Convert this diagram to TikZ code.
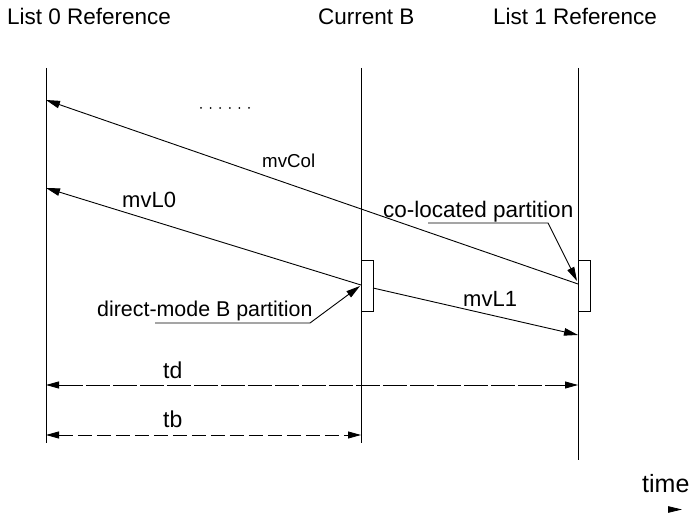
\documentclass[tikz,border=0pt]{standalone}
\usepackage{fontspec}
\setmainfont{Liberation Sans}
\usetikzlibrary{arrows.meta}
\begin{document}
\begin{tikzpicture}[x=1pt,y=-1pt,
  timeline/.style={line width=0.9pt},
  vec/.style={line width=0.9pt,-{Triangle[length=14pt,width=7.5pt]}},
  span/.style={line width=0.8pt,{Triangle[length=13pt,width=7pt]}-{Triangle[length=13pt,width=7pt]}},
  lbl/.style={inner sep=0pt,anchor=base west},
  part/.style={draw,line width=0.9pt,minimum width=11.5pt,minimum height=51pt,inner sep=0pt,fill=white}]
\useasboundingbox (0,0) rectangle (696,518);

% column headings
\node[lbl,font=\fontsize{22.5}{24}\selectfont] (h0) at (7,25) {List 0 Reference};
\node[lbl,font=\fontsize{22.5}{24}\selectfont] (hb) at (318,25) {Current B};
\node[lbl,font=\fontsize{22.5}{24}\selectfont] (h1) at (493,25) {List 1 Reference};

% time lines of the three pictures
\coordinate (l0top) at (46,68);  \coordinate (l0bot) at (46,443);
\coordinate (cbtop) at (361,68); \coordinate (cbbot) at (361,443);
\coordinate (l1top) at (578,68); \coordinate (l1bot) at (578,460);
\draw[timeline] (l0top) -- (l0bot);
\draw[timeline] (cbtop) -- (cbbot);
\draw[timeline] (l1top) -- (l1bot);

% partitions
\node[part,anchor=north west] (bpart) at (361,260) {};
\node[part,anchor=north west] (colpart) at (578,260) {};

% motion vectors
\coordinate (colend) at (578,284);
\coordinate (colref) at (46,100);
\coordinate (bmid) at (361,285);
\coordinate (l0ref) at (46,188);
\coordinate (bright) at (373,288);
\coordinate (l1ref) at (578,335);
\draw[vec] (colend) -- (colref);
\draw[vec] (bmid) -- (l0ref);
\draw[vec] (bright) -- (l1ref);

\node[lbl,font=\fontsize{18.7}{20}\selectfont] (mvcol) at (262,168) {mvCol};
\node[lbl,font=\fontsize{22}{24}\selectfont] (mvl0) at (122,208) {mvL0};
\node[lbl,font=\fontsize{22}{24}\selectfont] (mvl1) at (463,307) {mvL1};

% further references
\foreach \i in {0,...,5} \fill (201+\i*9.6,108) circle (1pt);

% leader lines to the partitions
\node[lbl,font=\fontsize{22.5}{24}\selectfont] (colname) at (383,218) {co-located partition};
\coordinate (colA) at (428,223); \coordinate (colB) at (548,223);
\draw[vec] (colA) -- (colB) -- (577,281);
\node[lbl,font=\fontsize{21.4}{23}\selectfont] (bname) at (97,317) {direct-mode B partition};
\coordinate (bA) at (155,323); \coordinate (bB) at (310,323);
\draw[vec] (bA) -- (bB) -- (360,286);

% temporal distances
\coordinate (tdL) at (46,385); \coordinate (tdR) at (578,385);
\draw[span,dash pattern=on 24pt off 3pt] (tdL) -- (tdR);
\node[lbl,font=\fontsize{23}{25}\selectfont] (td) at (163,378) {td};
\coordinate (tbL) at (46,435); \coordinate (tbR) at (361,435);
\draw[span,dash pattern=on 14pt off 5pt] (tbL) -- (tbR);
\node[lbl,font=\fontsize{23}{25}\selectfont] (tb) at (163,428) {tb};

% time direction
\node[lbl,font=\fontsize{25}{27}\selectfont] (time) at (642,492) {time};
\coordinate (tA) at (668,509.5); \coordinate (tB) at (682,509.5);
\draw[line width=0.8pt,-{Triangle[length=14pt,width=6.5pt]}] (tA) -- (tB);
\end{tikzpicture}
\end{document}
